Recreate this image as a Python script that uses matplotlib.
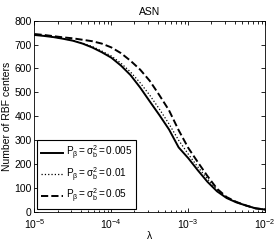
import numpy as np
import matplotlib
matplotlib.use("Agg")
from matplotlib import pyplot as plt

# lambda exponents (log10) sampled along the curves
lam_exp = [-5.0, -4.875, -4.75, -4.625, -4.5, -4.375, -4.25, -4.125, -4.0,
           -3.875, -3.75, -3.625, -3.5, -3.375, -3.25, -3.125, -3.0,
           -2.875, -2.75, -2.625, -2.5, -2.375, -2.25, -2.125, -2.0]

n_005 = [740, 736, 731, 724, 716, 704, 688, 668, 645,
         612, 572, 520, 462, 405, 345, 270, 225,
         174, 126, 86, 58, 40, 27, 15, 10]
n_01 = [742, 737, 732, 725, 717, 706, 692, 673, 652,
        622, 585, 540, 488, 430, 368, 300, 242,
        188, 138, 92, 60, 41, 27, 15, 10]
n_05 = [744, 740, 735, 730, 726, 720, 714, 704, 688,
        664, 632, 595, 548, 488, 425, 342, 268,
        208, 150, 97, 62, 42, 27, 15, 10]

labels = [r'$\mathregular{P_\beta=\sigma_b^2=0.005}$',
          r'$\mathregular{P_\beta=\sigma_b^2=0.01}$',
          r'$\mathregular{P_\beta=\sigma_b^2=0.05}$']


def main():
    plt.rcParams['font.family'] = ['Liberation Sans', 'DejaVu Sans']
    plt.rcParams['font.size'] = 7.5
    plt.rcParams['mathtext.fontset'] = 'custom'
    plt.rcParams['mathtext.rm'] = 'Liberation Sans'
    plt.rcParams['mathtext.it'] = 'Liberation Sans:italic'

    lam = 10.0 ** np.array(lam_exp)

    fig = plt.figure(figsize=(2.77, 2.40), dpi=100)
    ax = fig.add_axes([0.1245, 0.117, 0.8325, 0.797])

    ax.plot(lam, n_005, 'k-', lw=1.4, label=labels[0])
    ax.plot(lam, n_01, 'k:', lw=0.9, label=labels[1])
    ax.plot(lam, n_05, 'k--', lw=1.4, label=labels[2])

    ax.set_xscale('log')
    ax.set_xlim(1e-5, 1e-2)
    ax.set_ylim(0, 800)
    ax.set_yticks(range(0, 801, 100))
    ax.tick_params(direction='in', which='both', top=True, right=True,
                   labelsize=7.5, length=3, width=0.6, pad=2)
    ax.tick_params(axis='x', pad=3.5)
    ax.tick_params(which='minor', length=1.8)
    for s in ax.spines.values():
        s.set_linewidth(0.6)

    ax.set_title('ASN', fontsize=7.5, pad=4)
    ax.set_xlabel('λ', fontsize=7.5, labelpad=0)
    ax.set_ylabel('Number of RBF centers', fontsize=7.5, labelpad=2)

    leg = ax.legend(loc='lower left', fontsize=7.2, handlelength=2.2,
                    borderaxespad=0.3, fancybox=False, framealpha=1,
                    edgecolor='k', labelspacing=0.35, handletextpad=0.3,
                    borderpad=0.35)
    leg.get_frame().set_linewidth(0.8)

    fig.savefig('out.png', dpi=100)


if __name__ == "__main__":
    main()
